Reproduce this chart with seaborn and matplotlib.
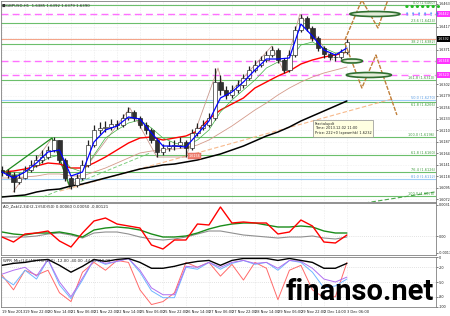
import numpy as np
import matplotlib
matplotlib.use('Agg')
import matplotlib.pyplot as plt
import matplotlib.transforms as mtransforms
from matplotlib.patches import Ellipse
import seaborn as sns

sns.set_style('white')
plt.rcParams['font.family'] = ['DejaVu Sans']

# ---------------- data ----------------
x_labels = ['19 Nov 2013', '19 Nov 22:00', '20 Nov 14:00', '21 Nov 06:00', '21 Nov 22:00',
            '22 Nov 14:00', '25 Nov 06:00', '25 Nov 22:00', '26 Nov 14:00', '27 Nov 06:00',
            '27 Nov 22:00', '28 Nov 14:00', '29 Nov 06:00', '29 Nov 22:00', '2 Dec 14:00',
            '3 Dec 06:00']
label_step = 16

# GBPUSD H1, sampled every 4 bars
close = [1.6126, 1.6120, 1.6106, 1.6114, 1.6130, 1.6140, 1.6150, 1.6156, 1.6170, 1.6190,
         1.6150, 1.6114, 1.6100, 1.6114, 1.6140, 1.6180, 1.6210, 1.6214, 1.6216, 1.6222,
         1.6220, 1.6234, 1.6246, 1.6234, 1.6220, 1.6210, 1.6190, 1.6166, 1.6174, 1.6178,
         1.6180, 1.6186, 1.6174, 1.6204, 1.6214, 1.6220, 1.6234, 1.6306, 1.6290, 1.6280,
         1.6290, 1.6300, 1.6314, 1.6330, 1.6340, 1.6350, 1.6360, 1.6370, 1.6350, 1.6330,
         1.6360, 1.6410, 1.6434, 1.6414, 1.6394, 1.6374, 1.6362, 1.6356, 1.6356, 1.6366,
         1.6386]
high = [1.6138, 1.6132, 1.6126, 1.6124, 1.6138, 1.6150, 1.6160, 1.6170, 1.6178, 1.6196,
        1.6190, 1.6154, 1.6118, 1.6122, 1.6150, 1.6190, 1.6220, 1.6226, 1.6228, 1.6232,
        1.6230, 1.6242, 1.6256, 1.6250, 1.6238, 1.6226, 1.6214, 1.6194, 1.6182, 1.6188,
        1.6190, 1.6196, 1.6190, 1.6212, 1.6224, 1.6230, 1.6244, 1.6334, 1.6320, 1.6298,
        1.6300, 1.6310, 1.6322, 1.6338, 1.6350, 1.6358, 1.6368, 1.6378, 1.6374, 1.6354,
        1.6370, 1.6418, 1.6442, 1.6438, 1.6418, 1.6398, 1.6378, 1.6366, 1.6364, 1.6372,
        1.6392]
low = [1.6118, 1.6114, 1.6086, 1.6102, 1.6112, 1.6126, 1.6136, 1.6144, 1.6152, 1.6166,
       1.6144, 1.6108, 1.6092, 1.6096, 1.6110, 1.6136, 1.6176, 1.6202, 1.6206, 1.6210,
       1.6212, 1.6216, 1.6230, 1.6228, 1.6214, 1.6202, 1.6184, 1.6156, 1.6160, 1.6168,
       1.6170, 1.6174, 1.6156, 1.6170, 1.6198, 1.6210, 1.6216, 1.6230, 1.6280, 1.6272,
       1.6274, 1.6284, 1.6294, 1.6310, 1.6326, 1.6336, 1.6346, 1.6356, 1.6344, 1.6324,
       1.6326, 1.6356, 1.6406, 1.6408, 1.6388, 1.6368, 1.6354, 1.6350, 1.6348, 1.6352,
       1.6362]
first_open = 1.6130
candle_step = 4

# moving averages, sampled every 8 bars
ma_step = 8
ma_blue = [1.6126, 1.6114, 1.6126, 1.6144, 1.6166, 1.6170, 1.6118, 1.6126, 1.6186, 1.6210,
           1.6218, 1.6236, 1.6232, 1.6204, 1.6178, 1.6178, 1.6176, 1.6202, 1.6228, 1.6274,
           1.6286, 1.6306, 1.6330, 1.6352, 1.6352, 1.6354, 1.6422, 1.6398, 1.6370, 1.6360,
           1.6374]
ma_green = [1.6130, 1.6120, 1.6124, 1.6138, 1.6154, 1.6160, 1.6134, 1.6126, 1.6160, 1.6194,
            1.6210, 1.6224, 1.6230, 1.6214, 1.6194, 1.6184, 1.6178, 1.6190, 1.6210, 1.6246,
            1.6270, 1.6290, 1.6310, 1.6334, 1.6346, 1.6350, 1.6380, 1.6386, 1.6374, 1.6364,
            1.6366]
ma_red = [1.6126, 1.6128, 1.6132, 1.6138, 1.6144, 1.6142, 1.6134, 1.6134, 1.6144, 1.6156,
          1.6170, 1.6184, 1.6194, 1.6196, 1.6190, 1.6194, 1.6198, 1.6208, 1.6232, 1.6250,
          1.6262, 1.6274, 1.6294, 1.6306, 1.6318, 1.6328, 1.6342, 1.6350, 1.6356, 1.6360,
          1.6366]
ma_rosy = [1.6114, 1.6114, 1.6116, 1.6118, 1.6122, 1.6122, 1.6118, 1.6118, 1.6126, 1.6134,
           1.6144, 1.6154, 1.6164, 1.6168, 1.6170, 1.6172, 1.6174, 1.6180, 1.6190, 1.6204,
           1.6218, 1.6234, 1.6250, 1.6264, 1.6280, 1.6294, 1.6306, 1.6316, 1.6324, 1.6330,
           1.6336]
ma_black = [1.6076, 1.6078, 1.6080, 1.6086, 1.6090, 1.6092, 1.6098, 1.6102, 1.6108, 1.6114,
            1.6120, 1.6126, 1.6132, 1.6136, 1.6140, 1.6142, 1.6146, 1.6150, 1.6156, 1.6162,
            1.6170, 1.6178, 1.6188, 1.6198, 1.6206, 1.6216, 1.6228, 1.6238, 1.6248, 1.6258,
            1.6268]

# horizontal levels
fib_levels = [1.6460, 1.6424, 1.6382, 1.6310, 1.6266, 1.6196, 1.6160, 1.6126, 1.6078]
fib_labels = ['0.0 (1.6460)', '23.6 (1.6424)', '38.2 (1.6382)', '161.8 (1.6310)',
              '61.8 (1.6266)', '100.0 (1.6196)', '61.8 (1.6160)', '76.4 (1.6126)',
              '100.0 (1.6078)']
blue_levels = [1.6270, 1.6112]
blue_labels = ['50.0 (1.6270)', '81.0 (1.6112)']
magenta_levels = [1.6442, 1.6348, 1.6320]
bid_level = 1.6392

# swing lines
zigzag_bars = [7.7, 34.8, 47.3, 89, 107.8, 128, 150.3, 155.8, 187.8, 196.2, 207.3, 230.3]
zigzag_prices = [1.6086, 1.6194, 1.6092, 1.6254, 1.6156, 1.6156, 1.6334, 1.6276, 1.6378,
                 1.6326, 1.6442, 1.6350]
tri_bars = [2.1, 34.8, 47.3]
tri_prices = [1.6126, 1.6194, 1.6096]
trend_green_bars = [28.5, 103]
trend_green_prices = [1.6076, 1.6164]
trend_green2_bars = [252.5, 301]
trend_green2_prices = [1.6064, 1.6086]
trend_peach_bars = [40.3, 271.3]
trend_peach_prices = [1.6088, 1.6272]
proj_up_bars = [238.6, 250.4, 261.6, 268.5]
proj_up_prices = [1.6390, 1.6470, 1.6414, 1.6470]
proj_dn_bars = [238.6, 250.4, 260.2, 274.8]
proj_dn_prices = [1.6384, 1.6294, 1.6360, 1.6240]

# AO panel, sampled every 8 bars
ao_red = [-0.0001, -0.0006, 0.0002, 0.0003, 0.0005, -0.0005, -0.0011, 0.0003, 0.0015, 0.0018,
          0.0012, 0.0010, 0.0008, -0.0009, -0.0013, -0.0004, -0.0004, 0.0012, 0.0011, 0.0029,
          0.0013, 0.0014, 0.0013, 0.0013, 0.0002, 0.0004, 0.0016, 0.0010, -0.0006, -0.0007,
          0.0001]
ao_green = [0.0004, 0.0002, 0.0001, 0.0003, 0.0003, 0.0004, 0.0002, -0.0001, 0.0006, 0.0008,
            0.0009, 0.0008, 0.0006, 0.0002, -0.0001, -0.0001, 0.0000, 0.0003, 0.0007, 0.0010,
            0.0012, 0.0013, 0.0013, 0.0011, 0.0009, 0.0009, 0.0010, 0.0009, 0.0005, 0.0003,
            0.0003]
ao_grey = [-0.0001, -0.0001, -0.0001, 0.0000, 0.0002, 0.0003, 0.0001, -0.0002, 0.0003, 0.0004,
           0.0004, 0.0002, -0.0001, -0.0003, -0.0004, -0.0003, -0.0001, 0.0002, 0.0005, 0.0005,
           0.0003, 0.0001, 0.0000, -0.0001, -0.0002, -0.0001, -0.0001, 0.0000, -0.0002, -0.0003,
           -0.0001]

# WPR panel, sampled every 8 bars
wpr_black = [-16, -12, -10, -6, -4, -16, -30, -18, -4, -8, -4, -2, -10, -22, -22, -18, -12,
             -8, -6, -16, -6, -2, -2, -2, -6, -2, -6, -10, -22, -22, -12]
wpr_purple = [-34, -26, -20, -38, -4, -50, -80, -42, -4, -12, -8, -2, -26, -62, -76, -76, -18,
              -20, -10, -20, -10, -6, -12, -10, -22, -6, -8, -22, -44, -50, -40]
wpr_blue = [-40, -56, -26, -44, -4, -56, -84, -46, -4, -14, -8, -2, -30, -68, -82, -82, -20,
            -24, -10, -24, -12, -6, -14, -10, -26, -6, -10, -30, -62, -58, -44]
wpr_red = [-36, -66, -26, -36, -26, -72, -90, -30, -10, -26, -6, -10, -66, -96, -90, -72, -10,
           -20, -10, -38, -14, -46, -10, -22, -86, -26, -16, -66, -82, -80, -10]

# ---------------- figure ----------------
W, H = 450, 316
fig = plt.figure(figsize=(W / 100, H / 100), dpi=100)
fig.patch.set_facecolor('white')

def px_axes(x0, y0, x1, y1):
    return fig.add_axes([x0 / W, 1 - y1 / H, (x1 - x0) / W, (y1 - y0) / H])

ax = px_axes(1, 1, 436, 202)
ax_ao = px_axes(1, 203, 436, 255)
ax_w = px_axes(1, 257, 436, 307)

xmin, xmax = -0.7, 302
tick_pos = [i * label_step for i in range(len(x_labels))]
ma_x = [i * ma_step for i in range(len(ma_red))]
c_x = [i * candle_step for i in range(len(close))]

for a in (ax, ax_ao, ax_w):
    a.set_xlim(xmin, xmax)
    a.set_facecolor('white')
    for s in a.spines.values():
        s.set_color('#808080')
        s.set_linewidth(0.6)
    a.yaxis.tick_right()
    a.tick_params(axis='y', labelsize=2.4, length=1.2, width=0.4, pad=0.6, colors='#202020')
    a.set_xticks(tick_pos)
    for tp in tick_pos:
        a.axvline(tp, color='#d8d8d8', lw=0.4, ls=(0, (1, 2)), zorder=0)

ax.tick_params(axis='x', length=0, labelbottom=False)
ax_ao.tick_params(axis='x', length=0, labelbottom=False)
ax_w.tick_params(axis='x', length=1.2, width=0.4, labelsize=2.6, pad=0.8, colors='#202020')
ax_w.set_xticklabels(x_labels, ha='left')

# ---------- main panel ----------
ylo, yhi = 1.6066, 1.6468
ax.set_ylim(ylo, yhi)
boxed = magenta_levels + [bid_level]
yt = [v for v in np.arange(1.6072, 1.6466, 0.0023)
      if min(abs(v - b) for b in boxed) > 0.0007]
ax.set_yticks(yt)
ax.set_yticklabels(['%.4f' % v for v in yt])
for v in np.arange(1.6072, 1.6466, 0.0023):
    ax.axhline(v, color='#e2e2e2', lw=0.4, ls=(0, (1, 2)), zorder=0)

for lv in fib_levels:
    ax.axhline(lv, color='#6cbf6c', lw=0.8, zorder=1)
for lv in blue_levels:
    ax.axhline(lv, color='#9fcdf7', lw=0.8, zorder=1)
for lv in magenta_levels:
    ax.axhline(lv, color='#ff70ff', lw=1.0, ls=(0, (5, 3)), zorder=1)
ax.axhline(bid_level, color='#f4a58a', lw=0.8, zorder=1)

ltrans = mtransforms.blended_transform_factory(ax.transAxes, ax.transData)
for lv, lb in zip(fib_levels, fib_labels):
    near_blue = min(abs(lv - b) for b in blue_levels) < 0.0006
    ax.text(0.997, lv - 0.0001 if near_blue else lv + 0.00008, lb, transform=ltrans,
            fontsize=2.5, color='#3c9a3c', ha='right',
            va='top' if near_blue else 'bottom', zorder=6)
for lv, lb in zip(blue_levels, blue_labels):
    ax.text(0.997, lv + 0.00008, lb, transform=ltrans, fontsize=2.5, color='#5a9ee6',
            ha='right', va='bottom', zorder=6)

# trend lines
ln = sns.lineplot(x=trend_peach_bars, y=trend_peach_prices, ax=ax, color='#f7b98c', lw=0.8).lines[-1]
ln.set_linestyle((0, (4, 2)))
ln = sns.lineplot(x=trend_green_bars, y=trend_green_prices, ax=ax, color='#7fcf7f', lw=0.7).lines[-1]
ln.set_linestyle((0, (4, 2)))
ln = sns.lineplot(x=trend_green2_bars, y=trend_green2_prices, ax=ax, color='#4aa84a', lw=0.8).lines[-1]
ln.set_linestyle((0, (4, 2)))
sns.lineplot(x=zigzag_bars, y=zigzag_prices, ax=ax, color='#c99a90', lw=0.6, sort=False)
sns.lineplot(x=tri_bars, y=tri_prices, ax=ax, color='#1e8a1e', lw=0.9, sort=False)

# moving averages
sns.lineplot(x=ma_x, y=ma_black, ax=ax, color='#000000', lw=1.1)
sns.lineplot(x=ma_x, y=ma_rosy, ax=ax, color='#d49a8a', lw=0.6)
sns.lineplot(x=ma_x, y=ma_red, ax=ax, color='#ff0000', lw=1.0)
sns.lineplot(x=ma_x, y=ma_green, ax=ax, color='#3fb03f', lw=0.5)

# candles
opens = [first_open] + close[:-1]
ax.vlines(c_x, low, high, color='#202020', lw=0.9, zorder=4)
bodies_b = [min(o, c) for o, c in zip(opens, close)]
bodies_h = [max(abs(c - o), 0.00006) for o, c in zip(opens, close)]
cols = ['white' if c >= o else '#303030' for o, c in zip(opens, close)]
ax.bar(c_x, bodies_h, bottom=bodies_b, width=3.0, color=cols, edgecolor='#202020',
       linewidth=0.45, zorder=5)
sns.lineplot(x=ma_x, y=ma_blue, ax=ax, color='#0000ff', lw=0.9, zorder=6)

# projections
for bx, by in ((proj_up_bars, proj_up_prices), (proj_dn_bars, proj_dn_prices)):
    l = sns.lineplot(x=bx, y=by, ax=ax, color='#c0803c', lw=1.0, sort=False, zorder=7).lines[-1]
    l.set_linestyle((0, (3, 1)))

# ellipses on magenta levels
for cx, lv, w, h in ((259.5, magenta_levels[0], 34.8, 0.0010),
                     (243.5, magenta_levels[1], 14.6, 0.0008),
                     (255.3, magenta_levels[2], 31.3, 0.0010)):
    ax.add_patch(Ellipse((cx, lv), w, h, fc='#e3ecd9', ec='#2f6f2f', lw=1.2, zorder=8))

# price labels on right axis
for lv in magenta_levels:
    ax.text(1.004, lv, '%.4f' % lv, transform=ltrans, fontsize=2.4, color='white',
            ha='left', va='center', clip_on=False, zorder=9,
            bbox=dict(boxstyle='square,pad=0.25', fc='#ff33ff', ec='none'))
ax.text(1.004, bid_level, '%.4f' % bid_level, transform=ltrans, fontsize=2.4, color='white',
        ha='left', va='center', clip_on=False, zorder=9,
        bbox=dict(boxstyle='square,pad=0.25', fc='#000000', ec='none'))

# small red price label
ax.text(130, 1.6158, '1.6156', fontsize=2.4, color='white', ha='left', va='center', zorder=9,
        bbox=dict(boxstyle='square,pad=0.2', fc='#f08070', ec='#d05050', lw=0.3))

# tooltip
ax.text(217.5, 1.6227, 'Fractalupdt\nTime: 2013.12.02 11:00\nPrice: 222+0 (xpeamhk) 1.6232',
        fontsize=2.5, color='#202020', ha='left', va='top', linespacing=1.3, zorder=10,
        bbox=dict(boxstyle='square,pad=0.5', fc='#ffffe1', ec='#909090', lw=0.5))

# header
ax.text(0.012, 0.985, 'GBPUSD,H1  1.6385 1.6392 1.6379 1.6390', transform=ax.transAxes,
        fontsize=2.8, color='#202020', ha='left', va='top', zorder=10)
ax.text(0.002, 0.985, '■', transform=ax.transAxes, fontsize=2.8, color='#303030',
        ha='left', va='top', zorder=10)

# signal markers top-right
ax.text(0.928, 0.978, '● ● ● ● ● ● ●', transform=ax.transAxes, fontsize=3.2, color='#22bb22',
        ha='left', va='top', zorder=10)
ax.text(0.928, 0.945, '↑ ↑ ↑ ↑ ↑ ↑', transform=ax.transAxes, fontsize=3.6, color='#1e78ff',
        ha='left', va='top', zorder=10, fontweight='bold')

# ---------- AO panel ----------
ax_ao.set_ylim(-0.0019, 0.0033)
ax_ao.set_yticks([0.0031, 0.0, -0.0017])
ax_ao.set_yticklabels(['0.0031', '0.00', '-0.0017'])
ax_ao.axhline(0, color='#c8c8c8', lw=0.5, ls=(0, (1, 2)))
sns.lineplot(x=ma_x, y=ao_grey, ax=ax_ao, color='#909090', lw=0.8)
sns.lineplot(x=ma_x, y=ao_green, ax=ax_ao, color='#1a8c1a', lw=1.0)
sns.lineplot(x=ma_x, y=ao_red, ax=ax_ao, color='#ff0000', lw=1.0)
ax_ao.text(0.004, 0.97, 'AO_Zak(2,34)(2,1)(50)(50) 0.00060 0.00050 -0.00121',
           transform=ax_ao.transAxes, fontsize=2.8, color='#202020', ha='left', va='top')

# ---------- WPR panel ----------
ax_w.set_ylim(-101, 1)
ax_w.set_yticks([0, -20, -50, -80, -100])
ax_w.set_yticklabels(['0', '-20', '-50', '-80', '-100'])
for v in (-20, -50, -80):
    ax_w.axhline(v, color='#c8c8c8', lw=0.5, ls=(0, (1, 2)))
sns.lineplot(x=ma_x, y=wpr_red, ax=ax_w, color='#ff6a6a', lw=0.7)
sns.lineplot(x=ma_x, y=wpr_blue, ax=ax_w, color='#6fb6ff', lw=0.7)
sns.lineplot(x=ma_x, y=wpr_purple, ax=ax_w, color='#b070f0', lw=0.7)
sns.lineplot(x=ma_x, y=wpr_black, ax=ax_w, color='#000000', lw=1.0)
ax_w.text(0.004, 0.97, 'WPR_Mix(14)(40)(75)(150) -12.00 -40.00 -44.00 -10.00',
          transform=ax_w.transAxes, fontsize=2.8, color='#202020', ha='left', va='top')

for a in (ax, ax_ao, ax_w):
    a.set_xlim(xmin, xmax)
    a.set_xlabel('')
    a.set_ylabel('')
    if a.get_legend() is not None:
        a.get_legend().remove()

# watermark
fig.text(434 / W, 1 - 300 / H, 'finanso.net', fontsize=21, fontweight='bold',
         family=['Roboto', 'DejaVu Sans'], color='#000000', ha='right', va='baseline',
         zorder=20)

fig.savefig('out.png', dpi=100, facecolor='white')
